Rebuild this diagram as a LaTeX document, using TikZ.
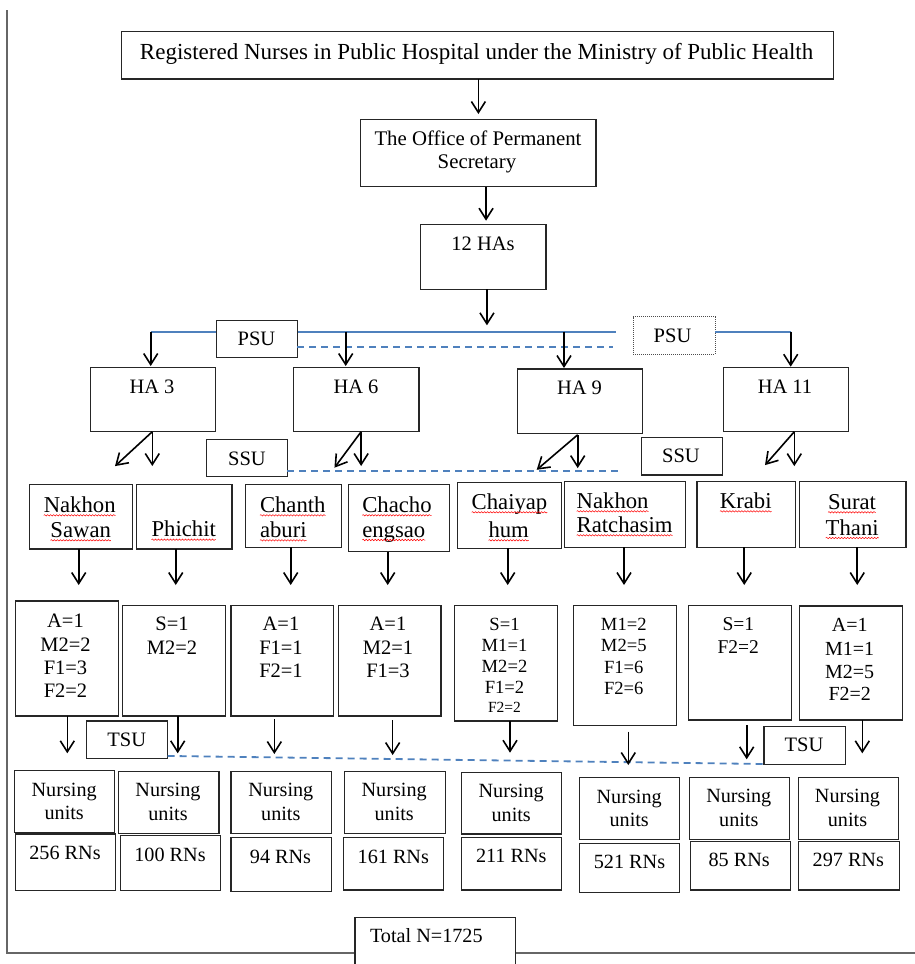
\documentclass[tikz,border=0pt]{standalone}
\usepackage{fontspec}
\setmainfont{Liberation Serif}
\usetikzlibrary{arrows.meta,decorations.pathmorphing}
\definecolor{wblue}{HTML}{4F81BD}
\newcommand\szT{\fontsize{23}{27}\selectfont}
\newcommand\szB{\fontsize{20.5}{24}\selectfont}
\newcommand\szP{\fontsize{22.7}{26}\selectfont}
\newcommand\szS{\fontsize{18.6}{22}\selectfont}
\newcommand\szX{\fontsize{15.5}{18}\selectfont}
\newcommand\szR{\fontsize{19.5}{23}\selectfont}
\newcommand\szE{\fontsize{20}{23}\selectfont}
\newcommand\szN{\fontsize{20.2}{23}\selectfont}
\newcommand\bx[6][]{\node[box,#1,minimum width={(#5-#3)*1pt},minimum height={(#6-#4)*1pt}] (#2) at ({(#3+#5)/2},{(#4+#6)/2}) {};}
\newcommand\tx[5][]{\node[txt,#1] (#2) at (#3,#4) {#5};}
\newcommand\sq[1]{\draw[squig] ([yshift=-3pt]#1.base west) -- ([yshift=-3pt]#1.base east);}
\begin{document}
\begin{tikzpicture}[x=1pt,y=-1pt,
  box/.style={draw=black!85,line width=1.2pt,fill=white,inner sep=0pt,outer sep=0pt},
  dotbox/.style={draw=black!70,line width=0.9pt,dash pattern=on 1pt off 1pt},
  txt/.style={anchor=base,inner sep=0pt,outer sep=0pt,font=\szB},
  ptx/.style={txt,font=\szP},
  arr/.style={-{Straight Barb[length=11pt,width=14pt]},line width=1.6pt,black},
  bline/.style={wblue,line width=1.8pt},
  dsh/.style={wblue,line width=1.8pt,dash pattern=on 7pt off 5pt},
  frame/.style={black!60,line width=1.3pt},
  squig/.style={red,line width=0.5pt,decorate,decoration={snake,amplitude=0.7pt,segment length=3pt}}]
\useasboundingbox (0,0) rectangle (915,964);
% frame
\draw[frame] (7,10) -- (7,953) -- (915,953);
% blue solid line (first part, under PSU box)
\coordinate (bl) at (150.7,331.7);
\coordinate (bm) at (616,331.7);
\coordinate (br) at (790.7,331.7);
\coordinate (j6) at (345.7,331.7);
\coordinate (j9) at (564,331.7);
\draw[bline] (bl) -- (bm);
% boxes
\bx{title}{121.4}{31.7}{833.4}{79}
\bx{office}{360.7}{119.3}{596}{186.7}
\bx{has}{420.5}{224.7}{546}{289.3}
\bx{psu1}{216.7}{320.7}{297.3}{357.7}
\bx[dotbox]{psu2}{633.3}{316.7}{715}{354}
\bx{ha3}{90.3}{367.7}{215.3}{431.7}
\bx{ha6}{293.3}{367.7}{419}{431.7}
\bx{ha9}{517.3}{369}{642.7}{433.3}
\bx{ha11}{723.3}{367.3}{848.7}{431.7}
\bx{ssu1}{206.7}{439.3}{287.3}{476.7}
\bx{ssu2}{641.7}{437.3}{722.3}{475}
\bx{p1}{29.3}{484.3}{132.3}{549}
\bx{p2}{136.7}{484.3}{232}{549}
\bx{p3}{245.7}{484.3}{341.3}{547.3}
\bx{p4}{348.3}{484.3}{449.3}{551.7}
\bx{p5}{457.3}{482.7}{561.3}{548.3}
\bx{p6}{564.3}{481.7}{685.3}{547.3}
\bx{p7}{697}{481.7}{795.3}{547.3}
\bx{p8}{799.3}{481.7}{906}{547.3}
\bx{n1}{15.3}{601}{118.3}{716}
\bx{n2}{122.3}{605.3}{225.3}{716}
\bx{n3}{231}{605.3}{333.7}{716}
\bx{n4}{338.3}{605.3}{441}{716}
\bx{n5}{454.3}{605.3}{557.3}{721}
\bx{n6}{573.7}{605.3}{676.7}{725.7}
\bx{n7}{688.3}{605.3}{791.3}{720}
\bx{n8}{799.3}{606}{902.3}{720}
\bx{tsu1}{86.7}{721}{167.7}{758.3}
\bx{tsu2}{764}{726.7}{845.3}{764.3}
\bx{u1}{14.3}{770.7}{114.3}{832.3}
\bx{r1}{15.3}{834}{115.7}{890.7}
\bx{u2}{118.7}{771.7}{219}{833.3}
\bx{r2}{120.3}{835.3}{220.7}{890.7}
\bx{u3}{231}{771.7}{331.3}{833.3}
\bx{r3}{231}{837.3}{331.3}{891.7}
\bx{u4}{344.7}{771.7}{445.3}{833.3}
\bx{r4}{343.3}{837.3}{443.3}{890}
\bx{u5}{461.7}{772.7}{561.3}{834}
\bx{r5}{461.7}{837.3}{561.3}{890}
\bx{u6}{579.7}{777.7}{679.7}{839.3}
\bx{r6}{579.7}{843.3}{679.7}{892.3}
\bx{u7}{689.3}{777.7}{789.3}{839.3}
\bx{r7}{690.3}{841.3}{790.3}{890}
\bx{u8}{798.3}{777.7}{898.3}{839.3}
\bx{r8}{798.7}{841.3}{899.3}{890}
\bx{total}{355}{917.3}{515.7}{975}
% blue lines
\draw[bline] (psu2.east |- bl) -- (br);
\draw[dsh] ([yshift=-7.5pt]psu1.east) -- ++(315.7,0);
\draw[dsh] ([yshift=-12.7pt]ssu1.east) -- ++(334.4,0);
\draw[dsh] ([yshift=-16.3pt]tsu1.east) -- ([yshift=-18.5pt]tsu2.west);
% texts
\tx[font=\szT]{tt}{476.6}{59.3}{Registered Nurses in Public Hospital under the Ministry of Public Health}
\tx[font=\fontsize{20.8}{24}\selectfont]{to1}{478}{145}{The Office of Permanent}
\tx[font=\fontsize{20.8}{24}\selectfont]{to2}{477}{168.3}{Secretary}
\tx{th}{483}{250.7}{12 HAs}
\tx{tp1}{256.5}{345}{PSU}
\tx{tp2}{672.5}{342.3}{PSU}
\tx{th3}{152}{393.3}{HA 3}
\tx{th6}{356}{393.3}{HA 6}
\tx{th9}{579.5}{394}{HA 9}
\tx{th11}{785}{393.3}{HA 11}
\tx{ts1}{247}{465.7}{SSU}
\tx{ts2}{681}{462.3}{SSU}
% provinces
\tx[ptx]{w1}{79.7}{512.3}{Nakhon}
\tx[ptx]{w2}{80.7}{537.3}{Sawan}
\tx[ptx]{w3}{183.7}{536.7}{Phichit}
\tx[ptx,anchor=base west]{w4}{260}{512.3}{Chanth}
\tx[ptx,anchor=base west]{w5}{260}{537.3}{aburi}
\tx[ptx,anchor=base west]{w6}{362.3}{512.3}{Chacho}
\tx[ptx,anchor=base west]{w7}{362.3}{537}{engsao}
\tx[ptx]{w8}{509.5}{509.3}{Chaiyap}
\tx[ptx]{w9}{508.7}{537.3}{hum}
\tx[ptx,anchor=base west]{w10}{576.7}{508.3}{Nakhon}
\tx[ptx,anchor=base west]{w11}{576.7}{532.3}{Ratchasim}
\tx[ptx]{w12}{745.8}{508.3}{Krabi}
\tx[ptx]{w13}{852}{509.3}{Surat}
\tx[ptx]{w14}{852.2}{535}{Thani}
\foreach \w in {w1,w2,w3,w4,w5,w6,w7,w8,w9,w10,w11,w12,w13,w14}{\sq{\w}}
% numbers
\tx{a1}{65.5}{627.3}{A=1}
\tx{a2}{65.5}{651.7}{M2=2}
\tx{a3}{65.5}{674}{F1=3}
\tx{a4}{65.5}{697.3}{F2=2}
\tx{b1}{172}{630.7}{S=1}
\tx{b2}{172}{654}{M2=2}
\tx{c1}{281}{630.7}{A=1}
\tx{c2}{281}{654}{F1=1}
\tx{c3}{281}{677.3}{F2=1}
\tx{d1}{388}{630.7}{A=1}
\tx{d2}{388}{654}{M2=1}
\tx{d3}{388}{677.3}{F1=3}
\tx[font=\szS]{e1}{504.5}{630}{S=1}
\tx[font=\szS]{e2}{504.5}{651.7}{M1=1}
\tx[font=\szS]{e3}{504.5}{672.7}{M2=2}
\tx[font=\szS]{e4}{504.5}{693.3}{F1=2}
\tx[font=\szX]{e5}{504.5}{712.7}{F2=2}
\tx[font=\szS]{f1}{623.8}{630}{M1=2}
\tx[font=\szS]{f2}{623.8}{651.7}{M2=5}
\tx[font=\szS]{f3}{623.8}{673.3}{F1=6}
\tx[font=\szS]{f4}{623.8}{694}{F2=6}
\tx[font=\szR]{g1}{738.3}{630.7}{S=1}
\tx[font=\szR]{g2}{738.3}{653.3}{F2=2}
\tx[font=\szE]{h1}{849.7}{631.7}{A=1}
\tx[font=\szE]{h2}{849.7}{655}{M1=1}
\tx[font=\szE]{h3}{849.7}{678.3}{M2=5}
\tx[font=\szE]{h4}{849.7}{700.7}{F2=2}
\tx{tt1}{126.7}{746.7}{TSU}
\tx{tt2}{804}{751.7}{TSU}
% nursing units
\tx[font=\szN]{v1a}{64.2}{796}{Nursing}
\tx[font=\szN]{v1b}{64.2}{819.3}{units}
\tx[font=\szN]{v2a}{168}{796.7}{Nursing}
\tx[font=\szN]{v2b}{168}{820}{units}
\tx[font=\szN]{v3a}{280.8}{796.7}{Nursing}
\tx[font=\szN]{v3b}{280.8}{820}{units}
\tx[font=\szN]{v4a}{394.2}{796.7}{Nursing}
\tx[font=\szN]{v4b}{394.2}{820}{units}
\tx[font=\szN]{v5a}{511.2}{797.7}{Nursing}
\tx[font=\szN]{v5b}{511.2}{821}{units}
\tx[font=\szN]{v6a}{629.2}{803.3}{Nursing}
\tx[font=\szN]{v6b}{629.2}{826.7}{units}
\tx[font=\szN]{v7a}{738.8}{802.7}{Nursing}
\tx[font=\szN]{v7b}{738.8}{826}{units}
\tx[font=\szN]{v8a}{847.5}{802.7}{Nursing}
\tx[font=\szN]{v8b}{847.5}{826}{units}
\tx[font=\szN]{q1}{65}{859.3}{256 RNs}
\tx[font=\szN]{q2}{170}{861}{100 RNs}
\tx[font=\szN]{q3}{280.5}{863.3}{94 RNs}
\tx[font=\szN]{q4}{393.3}{863.3}{161 RNs}
\tx[font=\szN]{q5}{511.3}{862.7}{211 RNs}
\tx[font=\szN]{q6}{629.5}{868.3}{521 RNs}
\tx[font=\szN]{q7}{739.2}{866.7}{85 RNs}
\tx[font=\szN]{q8}{848.3}{866.7}{297 RNs}
\tx[font=\szN,anchor=base west]{qt}{370}{942.3}{Total N=1725}
% arrows top
\draw[arr] ([xshift=1pt]title.south) -- ++(0,35);
\draw[arr] ([xshift=7.7pt]office.south) -- ++(0,34);
\draw[arr] ([xshift=3.7pt]has.south) -- ++(0,36);
\draw[arr] (bl) -- ++(0,34.3);
\draw[arr] (j6) -- ++(0,34.3);
\draw[arr] (j9) -- ++(0,36.3);
\draw[arr] (br) -- ++(0,35);
% HA forks
\draw[arr] ([xshift=-0.5pt]ha3.south) -- ++(-37.3,34.4);
\draw[arr] ([xshift=-0.5pt]ha3.south) -- ++(0,34.3);
\draw[arr] ([xshift=5pt]ha6.south) -- ++(-26.7,36);
\draw[arr] ([xshift=5pt]ha6.south) -- ++(0,34.3);
\draw[arr] ([xshift=-2.3pt,yshift=-1.5pt]ha9.south) -- ++(-41,35);
\draw[arr] ([xshift=-2.3pt,yshift=-1.5pt]ha9.south) -- ++(0,33.3);
\draw[arr] ([xshift=8.3pt]ha11.south) -- ++(-29.3,33.4);
\draw[arr] ([xshift=8.3pt]ha11.south) -- ++(0,34.4);
% province -> numbers
\draw[arr] ([xshift=-2.1pt]p1.south) -- ++(0,36);
\draw[arr] ([xshift=-8.6pt]p2.south) -- ++(0,36);
\draw[arr] ([xshift=-2.8pt]p3.south) -- ++(0,37.7);
\draw[arr] ([xshift=-11.1pt]p4.south) -- ++(0,33.3);
\draw[arr] ([xshift=-1.6pt]p5.south) -- ++(0,36.7);
\draw[arr] ([xshift=-0.8pt]p6.south) -- ++(0,37.7);
\draw[arr] ([xshift=-1.9pt]p7.south) -- ++(0,37.7);
\draw[arr] ([xshift=4.6pt]p8.south) -- ++(0,37.7);
% numbers -> nursing units
\draw[arr] ([xshift=0.5pt]n1.south) -- ++(0,37.3);
\draw[arr] ([xshift=3.9pt]n2.south) -- ++(0,37.3);
\draw[arr] ([xshift=-8pt,yshift=-3pt]n3.south) -- ++(0,35);
\draw[arr] ([xshift=3pt,yshift=-4pt]n4.south) -- ++(0,35);
\draw[arr] ([xshift=4.2pt]n5.south) -- ++(0,31.7);
\draw[arr] ([xshift=3.1pt,yshift=-6pt]n6.south) -- ++(0,33.3);
\draw[arr] ([xshift=6.9pt,yshift=-5pt]n7.south) -- ++(0,34.3);
\draw[arr] ([xshift=11.5pt]n8.south) -- ++(0,33.3);
\end{tikzpicture}
\end{document}
